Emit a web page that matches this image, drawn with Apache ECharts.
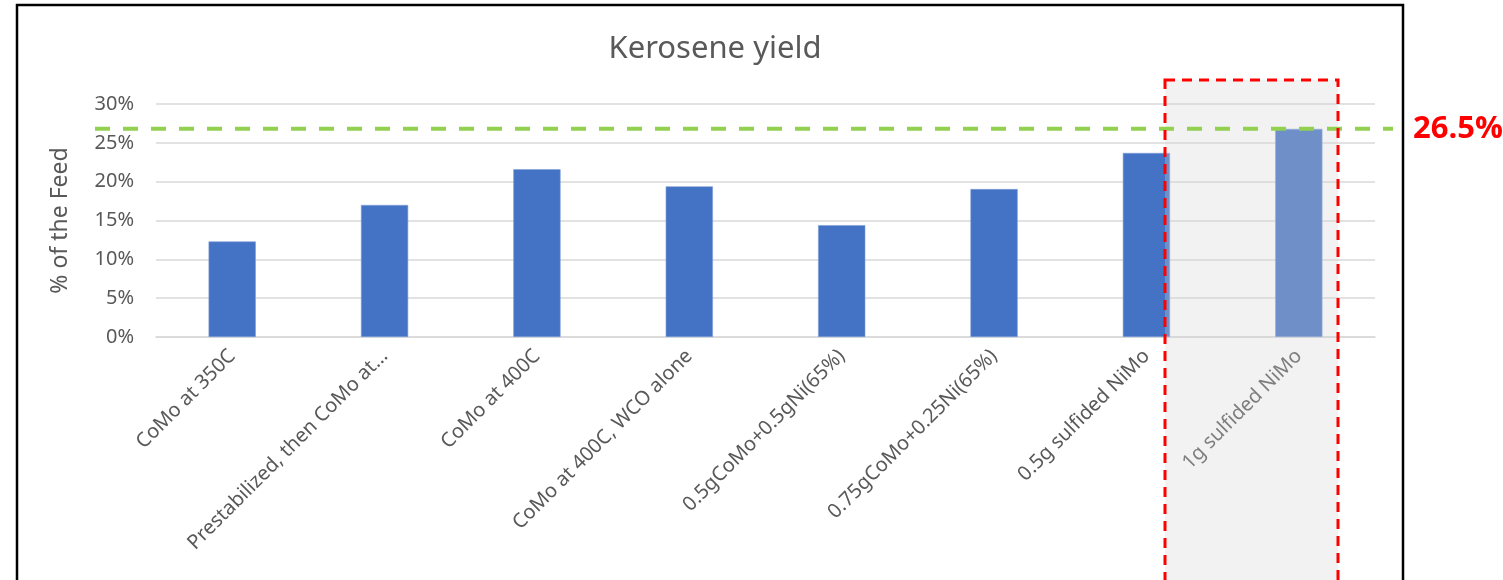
<!DOCTYPE html>
<html>
<head>
<meta charset="utf-8">
<script src="https://cdn.jsdelivr.net/npm/echarts@6/dist/echarts.min.js"></script>
<style>
  html, body { margin: 0; padding: 0; background: #fff; }
  #chart { width: 1503px; height: 580px; }
</style>
</head>
<body>
<div id="chart"></div>
<script>
  // data
  const categories = [
    "CoMo at 350C",
    "Prestabilized, then CoMo at…",
    "CoMo at 400C",
    "CoMo at 400C, WCO alone",
    "0.5gCoMo+0.5gNi(65%)",
    "0.75gCoMo+0.25Ni(65%)",
    "0.5g sulfided NiMo",
    "1g sulfided NiMo"
  ];
  const yieldPct = [12.3, 17.0, 21.6, 19.4, 14.4, 19.05, 23.7, 26.8];
  const yTicks = { min: 0, max: 30, interval: 5 };
  const refValue = 26.8;
  const refLabel = "26.5%";

  const font = "'Noto Sans', 'Open Sans', sans-serif";
  const grey = "#595959";

  let chart = echarts.init(document.getElementById("chart"));

  let option = {
    animation: false,
    title: {
      text: "Kerosene yield",
      left: 710,
      top: 29,
      textAlign: "center",
      textStyle: { fontFamily: font, fontSize: 31, fontWeight: "normal", color: grey }
    },
    grid: { left: 156, right: 128, top: 104, bottom: 243 },
    xAxis: {
      type: "category",
      data: categories,
      axisLine: { lineStyle: { color: "#d9d9d9", width: 1.5 } },
      axisTick: { show: false },
      axisLabel: {
        rotate: 45,
        interval: 0,
        margin: 16,
        fontFamily: font,
        fontSize: 20,
        color: grey
      }
    },
    yAxis: {
      type: "value",
      min: yTicks.min,
      max: yTicks.max,
      interval: yTicks.interval,
      name: "% of the Feed",
      nameLocation: "middle",
      nameRotate: 90,
      nameGap: 84,
      nameTextStyle: { fontFamily: font, fontSize: 23, color: grey },
      axisLabel: { formatter: "{value}%", margin: 22, fontFamily: font, fontSize: 20, color: grey },
      splitLine: { lineStyle: { color: "#d9d9d9", width: 1.5 } }
    },
    series: [
      {
        type: "bar",
        data: yieldPct,
        barWidth: "31%",
        itemStyle: { color: "#4472c4", borderColor: "#7f9fd8", borderWidth: 0.6 }
      }
    ]
  };
  chart.setOption(option);

  // annotations drawn on top, the line placed through the y scale
  let yRef = chart.convertToPixel({ yAxisIndex: 0 }, refValue);
  chart.setOption({
    graphic: [
      {
        type: "rect",
        z: 100,
        shape: { x: 17, y: 5, width: 1386, height: 600 },
        style: { fill: null, stroke: "#000", lineWidth: 2.5 }
      },
      {
        type: "rect",
        z: 101,
        shape: { x: 1165, y: 80, width: 173, height: 520 },
        style: { fill: "rgba(212,212,212,0.3)", stroke: null }
      },
      {
        type: "line",
        z: 102,
        shape: { x1: 95, y1: yRef, x2: 1393, y2: yRef },
        style: { stroke: "#92d050", lineWidth: 4, lineDash: [15, 13] }
      },
      {
        type: "rect",
        z: 103,
        shape: { x: 1165, y: 80, width: 173, height: 520 },
        style: { fill: null, stroke: "#ff0000", lineWidth: 3, lineDash: [10, 7] }
      },
      {
        type: "text",
        z: 104,
        x: 1413,
        y: yRef,
        style: {
          text: refLabel,
          fontFamily: "'Open Sans', 'Noto Sans', sans-serif",
          fontSize: 31,
          fontWeight: "bold",
          fill: "#ff0000",
          verticalAlign: "middle"
        }
      }
    ]
  });
</script>
</body>
</html>
